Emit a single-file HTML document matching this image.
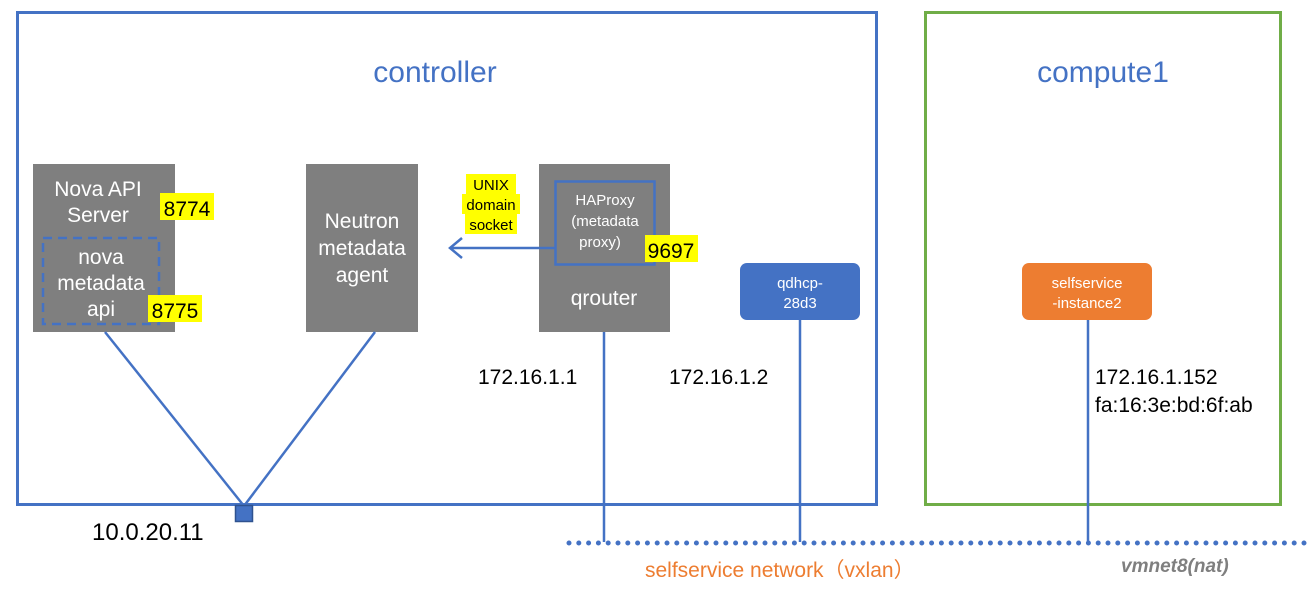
<!DOCTYPE html>
<html><head><meta charset="utf-8"><style>
html,body{margin:0;padding:0;background:#fff;}
svg{display:block;font-family:"Liberation Sans",Arial,sans-serif;}
</style></head><body>
<svg width="1312" height="598" viewBox="0 0 1312 598" xmlns="http://www.w3.org/2000/svg">
<rect x="0" y="0" width="1312" height="598" fill="#fff"/>
<!-- frames -->
<rect x="17.5" y="12.5" width="859" height="492" fill="none" stroke="#4472C4" stroke-width="3"/>
<rect x="925.5" y="12.5" width="355" height="492" fill="none" stroke="#70AD47" stroke-width="3"/>
<text x="435" y="82" font-size="30" fill="#4472C4" text-anchor="middle">controller</text>
<text x="1103" y="82" font-size="30" fill="#4472C4" text-anchor="middle">compute1</text>
<!-- nova -->
<rect x="33" y="164" width="142" height="168" fill="#7F7F7F"/>
<text x="98" y="196" font-size="21" fill="#fff" text-anchor="middle">Nova API</text>
<text x="98" y="222" font-size="21" fill="#fff" text-anchor="middle">Server</text>
<rect x="43" y="238" width="116" height="86" fill="none" stroke="#4472C4" stroke-width="2.5" stroke-dasharray="9,6"/>
<text x="101" y="264" font-size="21" fill="#fff" text-anchor="middle">nova</text>
<text x="101" y="290" font-size="21" fill="#fff" text-anchor="middle">metadata</text>
<text x="101" y="316" font-size="21" fill="#fff" text-anchor="middle">api</text>
<rect x="160" y="193" width="54" height="27" fill="#FFFF00"/>
<text x="187" y="216" font-size="21" fill="#000" text-anchor="middle">8774</text>
<rect x="148" y="295" width="54" height="27" fill="#FFFF00"/>
<text x="175" y="318" font-size="21" fill="#000" text-anchor="middle">8775</text>
<!-- neutron -->
<rect x="306" y="164" width="112" height="168" fill="#7F7F7F"/>
<text x="362" y="228" font-size="21" fill="#fff" text-anchor="middle">Neutron</text>
<text x="362" y="255" font-size="21" fill="#fff" text-anchor="middle">metadata</text>
<text x="362" y="282" font-size="21" fill="#fff" text-anchor="middle">agent</text>
<!-- unix -->
<rect x="466" y="174" width="50" height="20" fill="#FFFF00"/>
<rect x="462" y="194" width="58" height="20" fill="#FFFF00"/>
<rect x="465" y="214" width="52" height="20" fill="#FFFF00"/>
<text x="491" y="190" font-size="15" fill="#000" text-anchor="middle">UNIX</text>
<text x="491" y="210" font-size="15" fill="#000" text-anchor="middle">domain</text>
<text x="491" y="230" font-size="15" fill="#000" text-anchor="middle">socket</text>
<!-- qrouter -->
<rect x="539" y="164" width="131" height="168" fill="#7F7F7F"/>
<rect x="555.5" y="181.5" width="99" height="83" fill="none" stroke="#4472C4" stroke-width="2.5"/>
<text x="605" y="205" font-size="15" fill="#fff" text-anchor="middle">HAProxy</text>
<text x="605" y="226" font-size="15" fill="#fff" text-anchor="middle">(metadata</text>
<text x="600" y="247" font-size="15" fill="#fff" text-anchor="middle">proxy)</text>
<rect x="645" y="235" width="53" height="27" fill="#FFFF00"/>
<text x="671" y="258" font-size="21" fill="#000" text-anchor="middle">9697</text>
<text x="604" y="305" font-size="21" fill="#fff" text-anchor="middle">qrouter</text>
<!-- arrow -->
<line x1="555" y1="248" x2="451" y2="248" stroke="#4472C4" stroke-width="2.5"/>
<polyline points="462,238 450,248 462,258" fill="none" stroke="#4472C4" stroke-width="2.5"/>
<!-- qdhcp -->
<rect x="740" y="263" width="120" height="57" rx="7" fill="#4472C4"/>
<text x="800" y="288" font-size="15" fill="#fff" text-anchor="middle">qdhcp-</text>
<text x="800" y="308" font-size="15" fill="#fff" text-anchor="middle">28d3</text>
<!-- instance -->
<rect x="1022" y="263" width="130" height="57" rx="7" fill="#ED7D31"/>
<text x="1087" y="288" font-size="15" fill="#fff" text-anchor="middle">selfservice</text>
<text x="1087" y="308" font-size="15" fill="#fff" text-anchor="middle">-instance2</text>
<!-- lines -->
<line x1="105" y1="332" x2="244" y2="506" stroke="#4472C4" stroke-width="2.5"/>
<line x1="375" y1="332" x2="244" y2="506" stroke="#4472C4" stroke-width="2.5"/>
<rect x="235.5" y="505.5" width="17" height="16" fill="#4472C4" stroke="#2F528F" stroke-width="1.5"/>
<line x1="604" y1="332" x2="604" y2="542" stroke="#4472C4" stroke-width="2.5"/>
<line x1="800" y1="320" x2="800" y2="542" stroke="#4472C4" stroke-width="2.5"/>
<line x1="1088" y1="320" x2="1088" y2="542" stroke="#4472C4" stroke-width="2.5"/>
<line x1="569" y1="543" x2="1312" y2="543" stroke="#4472C4" stroke-width="5" stroke-linecap="round" stroke-dasharray="0,9.8"/>
<!-- labels -->
<text x="478" y="384" font-size="21" fill="#000">172.16.1.1</text>
<text x="669" y="384" font-size="21" fill="#000">172.16.1.2</text>
<text x="1095" y="384" font-size="21" fill="#000">172.16.1.152</text>
<text x="1095" y="412" font-size="21" fill="#000">fa:16:3e:bd:6f:ab</text>
<text x="92" y="540" font-size="24" fill="#000">10.0.20.11</text>
<text x="645" y="577" font-size="21" fill="#ED7D31">selfservice network（vxlan）</text>
<text x="1121" y="572" font-size="19" fill="#7F7F7F" font-style="italic" font-weight="bold">vmnet8(nat)</text>
</svg>
</body></html>
